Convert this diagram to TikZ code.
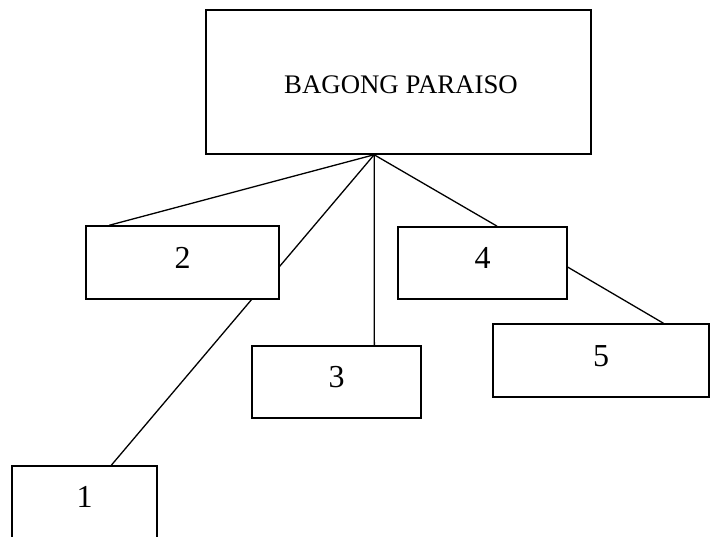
\documentclass[tikz,border=0pt]{standalone}
\usepackage{fontspec}
\setmainfont{Liberation Serif}
\usetikzlibrary{calc,backgrounds}
\tikzset{
  boxst/.style={draw=black, fill=white, line width=1.5pt, inner sep=0pt, rectangle},
  lbl/.style={inner sep=0pt, font=\fontsize{32}{36}\selectfont},
  ttl/.style={inner sep=0pt, font=\fontsize{26.8}{30}\selectfont},
  link/.style={draw=black, line width=1.3pt}
}
\begin{document}
\begin{tikzpicture}[x=1pt,y=-1pt]
\useasboundingbox (0,0) rectangle (716,537);
% boxes
\node[boxst, minimum width=385pt, minimum height=144pt] (top) at (398.5,82) {};
\node[ttl, xshift=2.5pt, yshift=-3pt] (ttop) at (top.center) {BAGONG PARAISO};
\node[boxst, minimum width=193pt, minimum height=73pt] (n2) at (182.5,262.5) {};
\node[lbl, yshift=5pt] (t2) at (n2.center) {2};
\node[boxst, minimum width=169pt, minimum height=72pt] (n4) at (482.5,263) {};
\node[lbl, yshift=5pt] (t4) at (n4.center) {4};
\node[boxst, minimum width=169pt, minimum height=72pt] (n3) at (336.5,382) {};
\node[lbl, yshift=5pt] (t3) at (n3.center) {3};
\node[boxst, minimum width=216pt, minimum height=73pt] (n5) at (601,360.5) {};
\node[lbl, yshift=4.5pt] (t5) at (n5.center) {5};
\node[boxst, minimum width=145pt, minimum height=74pt] (n1) at (84.5,503) {};
\node[lbl, yshift=5.5pt] (t1) at (84.5,502) {1};
% connectors
\coordinate (hub) at ($(top.south west)!0.437!(top.south east)$);
\begin{pgfonlayer}{background}
\draw[link] (hub) -- ($(n2.north west)!0.124!(n2.north east)$);
\draw[link] (hub) -- ($(n1.north west)!0.683!(n1.north east)$);
\draw[link] (hub) -- ($(n3.north west)!0.722!(n3.north east)$);
\draw[link] (hub) -- ($(n4.north west)!0.586!(n4.north east)$);
\draw[link] ($(n4.north east)!0.556!(n4.south east)$) -- ($(n5.north west)!0.787!(n5.north east)$);
\end{pgfonlayer}
\end{tikzpicture}
\end{document}
